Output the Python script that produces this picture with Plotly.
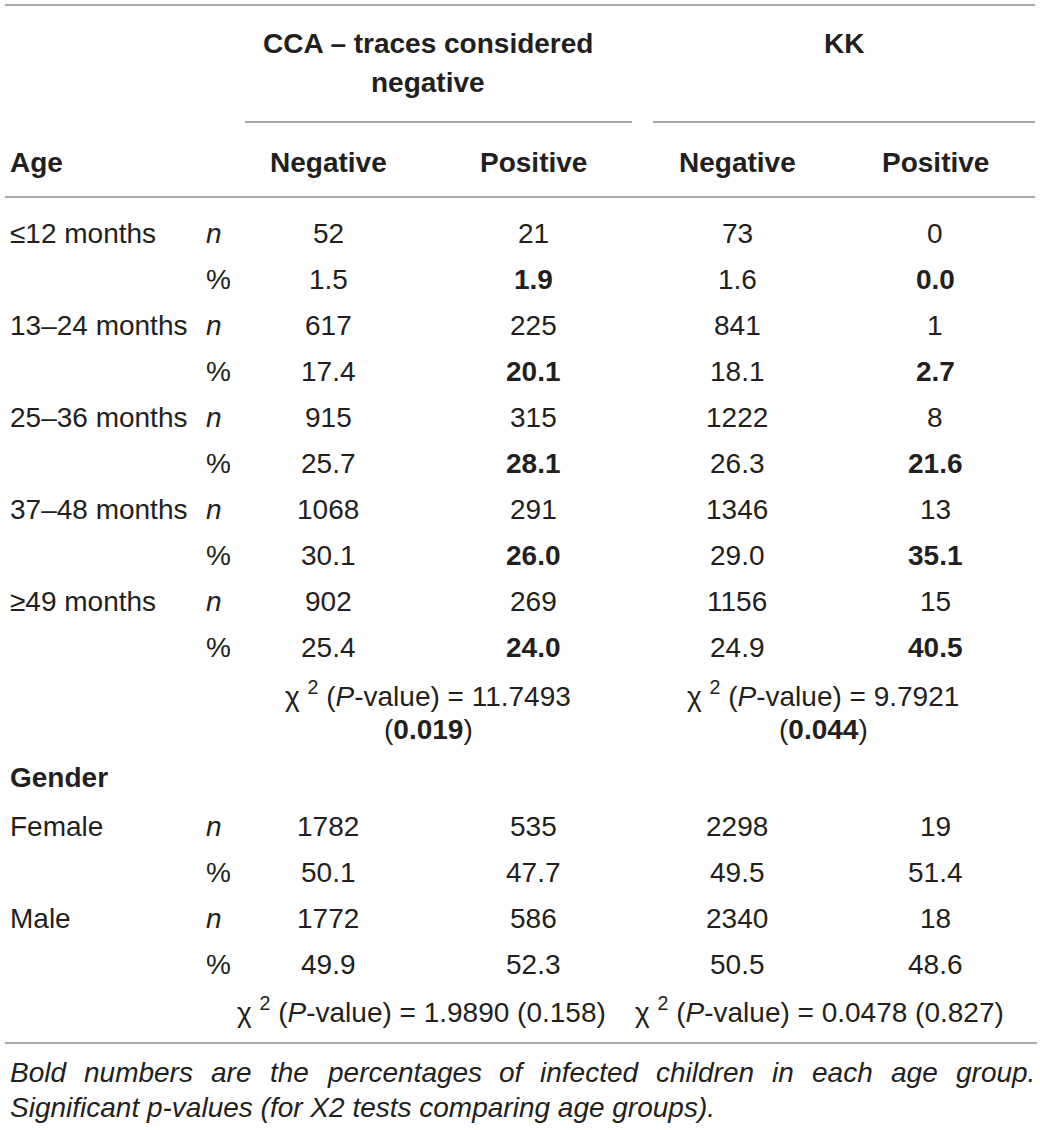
import plotly.graph_objects as go

# ---------------- data ----------------
age_groups = ["≤12 months", "13–24 months", "25–36 months", "37–48 months", "≥49 months"]
cca_neg_n = [52, 617, 915, 1068, 902]
cca_neg_pct = [1.5, 17.4, 25.7, 30.1, 25.4]
cca_pos_n = [21, 225, 315, 291, 269]
cca_pos_pct = [1.9, 20.1, 28.1, 26.0, 24.0]
kk_neg_n = [73, 841, 1222, 1346, 1156]
kk_neg_pct = [1.6, 18.1, 26.3, 29.0, 24.9]
kk_pos_n = [0, 1, 8, 13, 15]
kk_pos_pct = [0.0, 2.7, 21.6, 35.1, 40.5]

genders = ["Female", "Male"]
g_cca_neg_n = [1782, 1772]
g_cca_neg_pct = [50.1, 49.9]
g_cca_pos_n = [535, 586]
g_cca_pos_pct = [47.7, 52.3]
g_kk_neg_n = [2298, 2340]
g_kk_neg_pct = [49.5, 50.5]
g_kk_pos_n = [19, 18]
g_kk_pos_pct = [51.4, 48.6]

age_chi = [11.7493, 9.7921]
age_p = [0.019, 0.044]
gender_chi = [1.9890, 0.0478]
gender_p = [0.158, 0.827]

group_header_cca = ["CCA – traces considered", "negative"]
group_header_kk = "KK"
sub_headers = ["Negative", "Positive", "Negative", "Positive"]
footnote_line1 = "Bold numbers are the percentages of infected children in each age group."
footnote_line2 = "Significant p-values (for X2 tests comparing age groups)."

# ---------------- layout constants ----------------
W, H = 1040, 1130
FONT = "Liberation Sans, Arial, Helvetica, sans-serif"
FS = 28
TXT = "#231f20"
LINE = "#8c8c8c"

col_x = [328, 533, 737, 935]
np_x = 204
label_x = 8
grp_x = [428, 844]
chi_x = [428, 823]
chi_g_x = [421, 819]

y_age_rows0 = 233
row_step = 46
y_gender_rows0 = 826

# approximate Arial/Helvetica advance widths (per 1000 em) used to justify the footnote
ARIAL_W = {
    'B': 667, 'o': 556, 'l': 222, 'd': 556, 'n': 556, 'u': 556, 'm': 833, 'b': 556,
    'e': 556, 'r': 333, 's': 500, 'a': 556, 't': 278, 'h': 556, 'p': 556, 'c': 500,
    'g': 556, 'f': 278, 'i': 222, 'y': 500, '.': 278,
}


def text_w(s, size):
    return sum(ARIAL_W.get(ch, 556) for ch in s) * size / 1000.0


fig = go.Figure()
ann = []


def add(x, y, text, anchor="center", size=FS, bold=False, italic=False):
    t = text
    if bold:
        t = "<b>" + t + "</b>"
    if italic:
        t = "<i>" + t + "</i>"
    ann.append(dict(x=x, y=y, xref="x", yref="y", text=t, showarrow=False,
                    xanchor=anchor, yanchor="middle", align=anchor,
                    font=dict(family=FONT, size=size, color=TXT)))


# headers
add(grp_x[0], 43, group_header_cca[0], bold=True)
add(grp_x[0], 82, group_header_cca[1], bold=True)
add(grp_x[1], 43, group_header_kk, bold=True)
add(label_x, 162, "Age", anchor="left", bold=True)
for x, h in zip(col_x, sub_headers):
    add(x, 162, h, bold=True)

# age block
for i, g in enumerate(age_groups):
    yn = y_age_rows0 + 2 * i * row_step
    yp = yn + row_step
    add(label_x, yn, g, anchor="left")
    add(np_x, yn, "n", anchor="left", italic=True)
    add(np_x, yp, "%", anchor="left")
    for x, v in zip(col_x, [cca_neg_n[i], cca_pos_n[i], kk_neg_n[i], kk_pos_n[i]]):
        add(x, yn, str(v))
    add(col_x[0], yp, f"{cca_neg_pct[i]:.1f}")
    add(col_x[1], yp, f"{cca_pos_pct[i]:.1f}", bold=True)
    add(col_x[2], yp, f"{kk_neg_pct[i]:.1f}")
    add(col_x[3], yp, f"{kk_pos_pct[i]:.1f}", bold=True)

# chi-square for age
for x, c, p in zip(chi_x, age_chi, age_p):
    add(x, 694, f"χ <sup>2</sup> (<i>P</i>-value) = {c:.4f}")
    add(x, 729, f"(<b>{p:.3f}</b>)")

# gender block
add(label_x, 777, "Gender", anchor="left", bold=True)
for i, g in enumerate(genders):
    yn = y_gender_rows0 + 2 * i * row_step
    yp = yn + row_step
    add(label_x, yn, g, anchor="left")
    add(np_x, yn, "n", anchor="left", italic=True)
    add(np_x, yp, "%", anchor="left")
    for x, v in zip(col_x, [g_cca_neg_n[i], g_cca_pos_n[i], g_kk_neg_n[i], g_kk_pos_n[i]]):
        add(x, yn, str(v))
    for x, v in zip(col_x, [g_cca_neg_pct[i], g_cca_pos_pct[i], g_kk_neg_pct[i], g_kk_pos_pct[i]]):
        add(x, yp, f"{v:.1f}")

for x, c, p in zip(chi_g_x, gender_chi, gender_p):
    add(x, 1010, f"χ <sup>2</sup> (<i>P</i>-value) = {c:.4f} ({p:.3f})")

# footnote: line 1 justified between x=8 and x=1033 word by word
words = footnote_line1.split(" ")
fx0, fx1 = 8, 1033
widths = [text_w(w, FS) for w in words]
gap = (fx1 - fx0 - sum(widths)) / (len(words) - 1)
cx = fx0
for w, wd in zip(words, widths):
    add(cx, 1072, w, anchor="left", italic=True)
    cx += wd + gap
add(8, 1107, footnote_line2, anchor="left", italic=True)

# rules
shapes = []
for (x0, x1, y) in [(5, 1035, 5), (245, 632, 122), (653, 1035, 122), (5, 1035, 197), (5, 1037, 1043)]:
    shapes.append(dict(type="line", xref="x", yref="y", x0=x0, x1=x1, y0=y, y1=y,
                       line=dict(color=LINE, width=1.5)))

fig.add_trace(go.Scatter(x=[0, W], y=[0, H], mode="markers", marker=dict(opacity=0),
                         hoverinfo="skip", showlegend=False))

fig.update_layout(
    width=W, height=H,
    margin=dict(l=0, r=0, t=0, b=0),
    paper_bgcolor="white", plot_bgcolor="white",
    xaxis=dict(range=[0, W], visible=False, fixedrange=True),
    yaxis=dict(range=[H, 0], visible=False, fixedrange=True),
    annotations=ann, shapes=shapes, showlegend=False,
)

fig.write_html("out.html", config={"displayModeBar": False},
               post_script="document.body.style.margin='0';document.body.style.overflow='hidden';")
